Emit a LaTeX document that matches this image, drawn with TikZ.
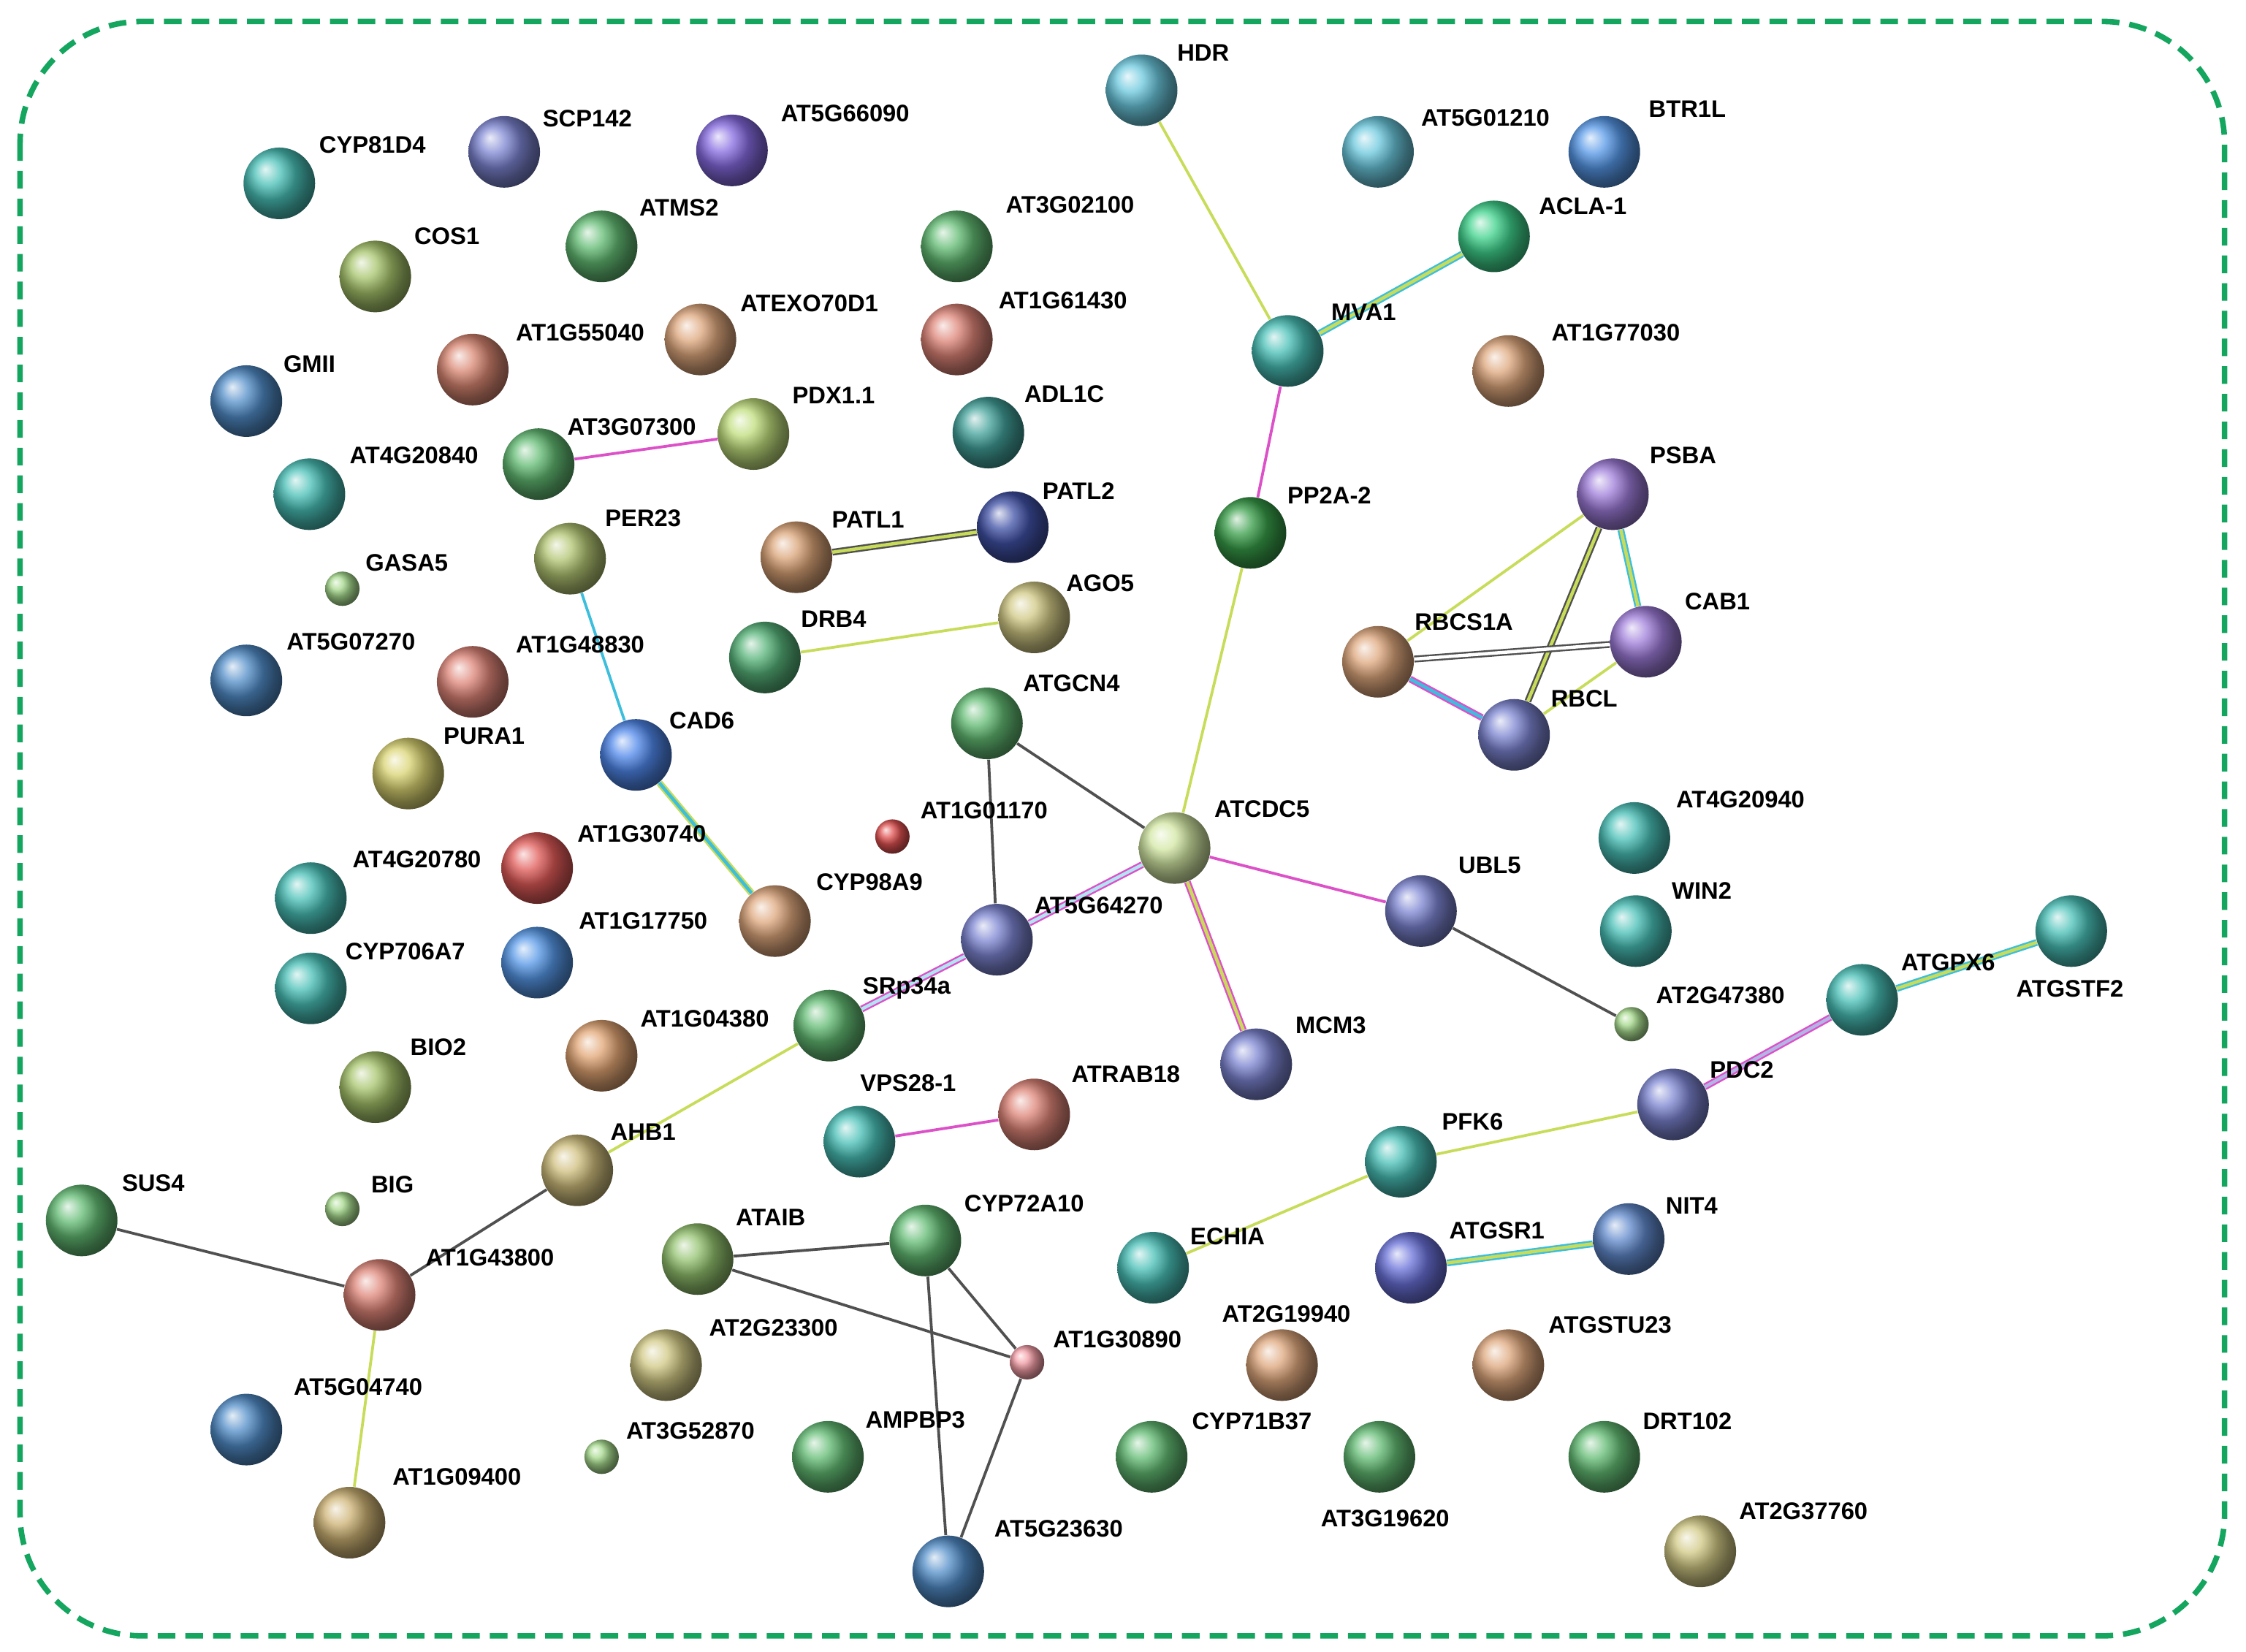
\documentclass[tikz,border=0pt]{standalone}
\usepackage{fontspec}
\setmainfont{Liberation Sans}
\usetikzlibrary{backgrounds}
\definecolor{yg}{RGB}{200,220,90}
\definecolor{mg}{RGB}{220,80,200}
\definecolor{cy}{RGB}{60,190,220}
\definecolor{dk}{RGB}{80,80,80}
\definecolor{frame}{RGB}{20,165,95}
\definecolor{tealc}{RGB}{40,180,170}
\definecolor{cyanc}{RGB}{80,190,215}
\definecolor{bluec}{RGB}{50,120,190}
\definecolor{slate}{RGB}{100,110,200}
\definecolor{violetc}{RGB}{140,100,210}
\definecolor{greenc}{RGB}{70,175,90}
\definecolor{oliveg}{RGB}{150,185,80}
\definecolor{khaki}{RGB}{200,190,110}
\definecolor{tan}{RGB}{215,150,100}
\definecolor{salmon}{RGB}{215,110,95}
\definecolor{redc}{RGB}{220,50,50}
\definecolor{dgreen}{RGB}{20,140,40}
\definecolor{dblue}{RGB}{30,50,150}
\definecolor{lgreen}{RGB}{150,210,120}
\definecolor{pinkc}{RGB}{240,140,150}
\definecolor{ygl}{RGB}{180,215,100}
\tikzset{
 ball/.style={circle,minimum size=1cm,inner sep=0pt,shading=ball},
 sball/.style={circle,minimum size=0.48cm,inner sep=0pt,shading=ball},
 lab/.style={font=\fontsize{9.5}{11}\selectfont\bfseries,inner sep=0pt,text=black},
 ed/.style={line width=1.1pt},
 ml/.style={line width=0.7pt,double distance=1.3pt},
}
\newcommand\prot[7]{\node[ball,ball color=#4!85!white] (#1) at (#2,#3) {}; \node[lab] (L#1) at (#6,#7) {#5};}
\newcommand\sprot[7]{\node[sball,ball color=#4!85!white] (#1) at (#2,#3) {}; \node[lab] (L#1) at (#6,#7) {#5};}
\begin{document}
\begin{tikzpicture}[x=0.02cm,y=-0.02cm]
\useasboundingbox (0,0) rectangle (1568,1153);
\draw[frame,line width=2.2pt,dash pattern=on 7pt off 4pt,rounded corners=1.7cm] (14,15) rectangle (1553,1142);
\prot{CYPa}{195}{128}{tealc}{CYP81D4}{260}{101}
\prot{SCP}{352}{106}{slate}{SCP142}{410}{83}
\prot{ATfive}{511}{105}{violetc!80!blue}{AT5G66090}{590}{79}
\prot{HDR}{797}{63}{cyanc}{HDR}{840}{37}
\prot{ATb}{962}{106}{cyanc}{AT5G01210}{1037}{82}
\prot{BTR}{1120}{106}{cyanc!70!blue}{BTR1L}{1178}{76}
\prot{COS}{262}{193}{oliveg}{COS1}{312}{165}
\prot{ATMS}{420}{172}{greenc}{ATMS2}{474}{145}
\prot{ATc}{668}{172}{greenc}{AT3G02100}{747}{143}
\prot{ACLA}{1043}{165}{tealc!70!green}{ACLA-1}{1105}{144}
\prot{EXO}{489}{237}{tan}{ATEXO70D1}{565}{212}
\prot{ATd}{330}{258}{salmon!80!brown}{AT1G55040}{405}{232}
\prot{ATe}{668}{237}{salmon}{AT1G61430}{742}{210}
\prot{MVA}{899}{245}{tealc}{MVA1}{952}{218}
\prot{ATf}{1053}{259}{tan}{AT1G77030}{1128}{232}
\prot{GMII}{172}{280}{bluec}{GMII}{216}{254}
\prot{PDX}{526}{303}{ygl}{PDX1.1}{582}{276}
\prot{ADL}{690}{302}{tealc!80!black}{ADL1C}{743}{275}
\prot{ATg}{216}{345}{tealc}{AT4G20840}{289}{318}
\prot{ATh}{376}{324}{greenc}{AT3G07300}{441}{298}
\prot{PSBA}{1126}{345}{violetc}{PSBA}{1175}{318}
\prot{PATLb}{707}{368}{dblue}{PATL2}{753}{343}
\prot{PATLa}{556}{389}{tan!80!brown}{PATL1}{606}{363}
\prot{PPA}{873}{372}{dgreen}{PP2A-2}{928}{346}
\prot{PER}{398}{390}{oliveg!70!khaki}{PER23}{449}{362}
\sprot{GASA}{239}{411}{lgreen}{GASA5}{284}{393}
\prot{AGO}{722}{431}{khaki}{AGO5}{768}{407}
\prot{DRB}{534}{459}{greenc!80!teal}{DRB4}{582}{432}
\prot{CAB}{1149}{448}{violetc}{CAB1}{1199}{420}
\prot{RBCS}{962}{462}{tan}{RBCS1A}{1022}{434}
\prot{ATi}{172}{475}{bluec}{AT5G07270}{245}{448}
\prot{ATj}{330}{476}{salmon}{AT1G48830}{405}{450}
\prot{RBCL}{1057}{513}{slate}{RBCL}{1106}{488}
\prot{GCN}{689}{505}{greenc}{ATGCN4}{748}{477}
\prot{CAD}{444}{527}{cyanc!60!blue}{CAD6}{490}{503}
\prot{PURA}{285}{540}{khaki!80!yellow}{PURA1}{338}{514}
\sprot{ATk}{623}{584}{redc}{AT1G01170}{687}{566}
\prot{CDC}{820}{592}{ygl!70!white}{ATCDC5}{881}{565}
\prot{ATl}{1141}{585}{tealc}{AT4G20940}{1215}{558}
\prot{ATm}{375}{606}{redc!80!salmon}{AT1G30740}{448}{582}
\prot{ATn}{217}{627}{tealc}{AT4G20780}{291}{600}
\prot{CYPb}{541}{643}{tan}{CYP98A9}{607}{616}
\prot{ATo}{696}{656}{slate}{AT5G64270}{767}{632}
\prot{UBL}{992}{636}{slate}{UBL5}{1040}{604}
\prot{WIN}{1142}{650}{tealc}{WIN2}{1188}{622}
\prot{GSTF}{1446}{650}{tealc}{ATGSTF2}{1445}{690}
\prot{ATp}{375}{672}{cyanc!70!blue}{AT1G17750}{449}{643}
\prot{CYPc}{217}{690}{tealc}{CYP706A7}{283}{664}
\prot{GPX}{1300}{698}{tealc}{ATGPX6}{1360}{672}
\prot{SRp}{579}{716}{greenc}{SRp34a}{633}{690}
\sprot{ATq}{1139}{715}{lgreen}{AT2G47380}{1201}{695}
\prot{ATr}{420}{737}{tan!90!orange}{AT1G04380}{492}{711}
\prot{MCM}{877}{743}{slate}{MCM3}{929}{716}
\prot{BIO}{262}{759}{oliveg}{BIO2}{306}{731}
\prot{PDC}{1168}{771}{slate}{PDC2}{1216}{747}
\prot{RAB}{722}{778}{salmon}{ATRAB18}{786}{750}
\prot{VPS}{600}{797}{tealc}{VPS28-1}{634}{756}
\prot{PFK}{978}{811}{tealc}{PFK6}{1028}{783}
\prot{AHB}{403}{817}{khaki!80!brown}{AHB1}{449}{790}
\prot{SUS}{57}{852}{greenc}{SUS4}{107}{826}
\sprot{BIG}{239}{844}{lgreen}{BIG}{274}{827}
\prot{AIB}{487}{879}{oliveg!70!greenc}{ATAIB}{538}{850}
\prot{CYPd}{646}{866}{greenc}{CYP72A10}{715}{840}
\prot{NIT}{1137}{865}{bluec!80!violetc}{NIT4}{1181}{842}
\prot{ECH}{805}{885}{tealc}{ECHIA}{857}{863}
\prot{GSR}{985}{885}{slate!80!blue}{ATGSR1}{1045}{859}
\prot{ATs}{265}{904}{salmon}{AT1G43800}{342}{878}
\sprot{ATt}{717}{951}{pinkc}{AT1G30890}{780}{935}
\prot{ATu}{895}{953}{tan}{AT2G19940}{898}{917}
\prot{ATv}{465}{953}{khaki}{AT2G23300}{540}{927}
\prot{GSTU}{1053}{953}{tan}{ATGSTU23}{1124}{925}
\prot{ATw}{172}{998}{bluec}{AT5G04740}{250}{968}
\sprot{ATx}{420}{1017}{lgreen}{AT3G52870}{482}{999}
\prot{AMP}{578}{1017}{greenc}{AMPBP3}{639}{991}
\prot{CYPe}{804}{1017}{greenc}{CYP71B37}{874}{992}
\prot{ATy}{963}{1017}{greenc}{AT3G19620}{967}{1060}
\prot{DRT}{1120}{1017}{greenc}{DRT102}{1178}{992}
\prot{ATz}{244}{1063}{khaki!60!brown}{AT1G09400}{319}{1031}
\prot{ATaa}{662}{1097}{bluec}{AT5G23630}{739}{1067}
\prot{ATbb}{1187}{1083}{khaki}{AT2G37760}{1259}{1055}
\begin{scope}[on background layer]
\draw[ed,yg] (HDR)--(MVA);
\draw[ml,draw=cy,double=yg] (MVA)--(ACLA);
\draw[ed,mg] (MVA)--(PPA);
\draw[ed,yg] (PPA)--(CDC);
\draw[ed,mg] (ATh)--(PDX);
\draw[ml,draw=dk,double=yg] (PATLa)--(PATLb);
\draw[ed,yg] (DRB)--(AGO);
\draw[ed,cy] (PER)--(CAD);
\draw[ml,draw=yg,double=cy] (CAD)--(CYPb);
\draw[ed,dk] (GCN)--(CDC);
\draw[ed,dk] (GCN)--(ATo);
\draw[ml,draw=mg,double=cy!40!white] (CDC)--(ATo);
\draw[ml,draw=mg,double=cy!40!white] (ATo)--(SRp);
\draw[ed,mg] (CDC)--(UBL);
\draw[ml,draw=mg,double=yg] (CDC)--(MCM);
\draw[ed,dk] (UBL)--(ATq);
\draw[ed,yg] (SRp)--(AHB);
\draw[ed,dk] (AHB)--(ATs);
\draw[ed,dk] (SUS)--(ATs);
\draw[ed,yg] (ATs)--(ATz);
\draw[ed,mg] (VPS)--(RAB);
\draw[ed,dk] (AIB)--(CYPd);
\draw[ed,dk] (AIB)--(ATt);
\draw[ed,dk] (CYPd)--(ATt);
\draw[ed,dk] (CYPd)--(ATaa);
\draw[ed,dk] (ATt)--(ATaa);
\draw[ed,yg] (ECH)--(PFK);
\draw[ed,yg] (PFK)--(PDC);
\draw[ml,draw=mg,double=slate!50!white] (PDC)--(GPX);
\draw[ml,draw=cy,double=yg] (GPX)--(GSTF);
\draw[ml,draw=cy,double=yg] (GSR)--(NIT);
\draw[ml,draw=cy,double=yg] (PSBA)--(CAB);
\draw[ml,draw=dk,double=yg] (PSBA)--(RBCL);
\draw[ed,yg] (PSBA)--(RBCS);
\draw[ml,draw=dk,double=white] (RBCS)--(CAB);
\draw[ml,draw=mg,double=cy] (RBCS)--(RBCL);
\draw[ed,yg] (CAB)--(RBCL);
\end{scope}
\end{tikzpicture}
\end{document}
